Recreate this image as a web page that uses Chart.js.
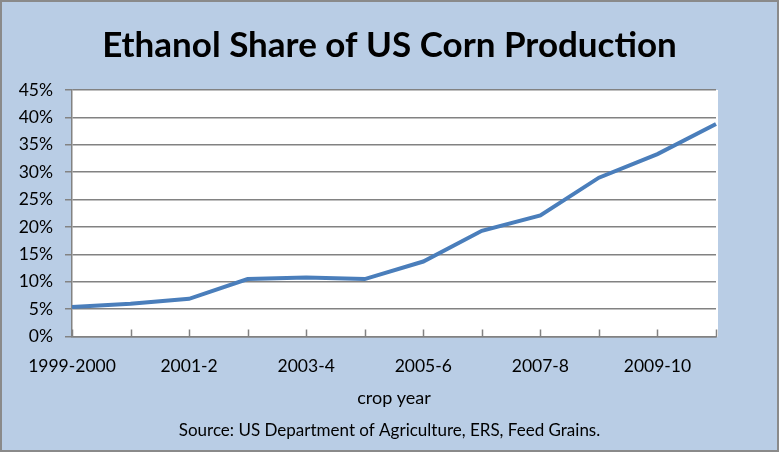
<!DOCTYPE html>
<html>
<head>
<meta charset="utf-8">
<title>Ethanol Share of US Corn Production</title>
<script src="https://cdn.jsdelivr.net/npm/chart.js@4"></script>
<style>
  html, body { margin: 0; padding: 0; background: #b9cde5; }
  #chart-box { width: 779px; height: 452px; }
</style>
</head>
<body>
<div id="chart-box"><canvas id="ethanol-chart" width="779" height="452"></canvas></div>
<script>
// crop years on the x axis, one point each
const cropYears = ["1999-2000", "2000-1", "2001-2", "2002-3", "2003-4", "2004-5",
  "2005-6", "2006-7", "2007-8", "2008-9", "2009-10", "2010-11"];
// ethanol share of corn production, percent
const ethanolShare = [5.4, 6.0, 6.9, 10.5, 10.8, 10.5, 13.7, 19.3, 22.1, 29.0, 33.3, 38.8];
// y axis ticks, percent
const shareTicks = [0, 5, 10, 15, 20, 25, 30, 35, 40, 45];

const gridGray = "#828282";
const fontFamily = "Lato, 'Open Sans', sans-serif";

// light blue background, white plot area and the grey frame
const backgroundPlugin = {
  id: "background",
  beforeDraw(chart) {
    const ctx = chart.ctx;
    const area = chart.chartArea;
    ctx.save();
    ctx.fillStyle = "#b9cde5";
    ctx.fillRect(0, 0, chart.width, chart.height);
    ctx.fillStyle = "#ffffff";
    ctx.fillRect(area.left, area.top, area.right - area.left + 2, area.bottom - area.top);
    ctx.strokeStyle = "#8a8a8a";
    ctx.lineWidth = 2;
    ctx.strokeRect(1, 1, chart.width - 2, chart.height - 2);
    ctx.restore();
  },
};

// Excel style tick marks pointing up into the plot
const innerTicksPlugin = {
  id: "innerTicks",
  beforeDatasetsDraw(chart) {
    const ctx = chart.ctx;
    const xScale = chart.scales.x;
    const bottom = chart.chartArea.bottom;
    ctx.save();
    ctx.strokeStyle = gridGray;
    ctx.lineWidth = 1.5;
    ctx.beginPath();
    cropYears.forEach((year, i) => {
      const x = Math.round(xScale.getPixelForValue(i)) + 0.5;
      ctx.moveTo(x, bottom);
      ctx.lineTo(x, bottom - 7);
    });
    ctx.stroke();
    ctx.restore();
  },
};

const ctx = document.getElementById("ethanol-chart").getContext("2d");

new Chart(ctx, {
  type: "line",
  data: {
    labels: cropYears,
    datasets: [
      {
        label: "Ethanol share",
        data: ethanolShare,
        borderColor: "#4a7ebb",
        borderWidth: 4,
        pointRadius: 0,
        tension: 0,
        fill: false,
        yAxisID: "y",
      },
    ],
  },
  options: {
    responsive: false,
    animation: false,
    devicePixelRatio: 1,
    layout: {
      padding: 0,
    },
    scales: {
      x: {
        type: "category",
        offset: false,
        grid: { display: false, drawTicks: false },
        border: { display: true, color: gridGray, width: 1.5 },
        ticks: {
          autoSkip: false,
          maxRotation: 0,
          padding: 19,
          color: "#000000",
          font: { family: fontFamily, size: 17.5 },
          callback: function (value, index) {
            return index % 2 === 0 ? cropYears[index] : "";
          },
        },
        title: {
          display: true,
          text: "crop year",
          color: "#000000",
          font: { family: fontFamily, size: 18 },
          padding: { top: 0, bottom: 6 },
        },
        afterFit: function (scale) {
          scale.height = 78;
        },
      },
      y: {
        min: 0,
        max: 45,
        afterBuildTicks: function (scale) {
          scale.ticks = shareTicks.map((v) => ({ value: v }));
        },
        grid: { color: gridGray, lineWidth: 1.5, tickLength: 7 },
        border: { display: true, color: gridGray, width: 1.5 },
        ticks: {
          padding: 12,
          color: "#000000",
          font: { family: fontFamily, size: 17.5 },
          callback: function (value) {
            return value + "%";
          },
        },
        afterFit: function (scale) {
          scale.width = 72;
        },
      },
      // empty right axis, only keeps the plot clear of the right margin
      yRight: {
        position: "right",
        min: 0,
        max: 1,
        grid: { drawOnChartArea: false, drawTicks: false },
        border: { display: false },
        ticks: { display: false },
        afterFit: function (scale) {
          scale.width = 63;
        },
      },
    },
    plugins: {
      legend: { display: false },
      tooltip: { enabled: false },
      title: {
        display: true,
        text: "Ethanol Share of US Corn Production",
        color: "#000000",
        font: { family: fontFamily, size: 35, weight: "bold" },
        padding: { top: 25, bottom: 23 },
      },
      subtitle: {
        display: true,
        position: "bottom",
        text: "Source: US Department of Agriculture, ERS, Feed Grains.",
        color: "#000000",
        font: { family: fontFamily, size: 17 },
        padding: { top: 6, bottom: 11 },
      },
    },
  },
  plugins: [backgroundPlugin, innerTicksPlugin],
});
</script>
</body>
</html>
